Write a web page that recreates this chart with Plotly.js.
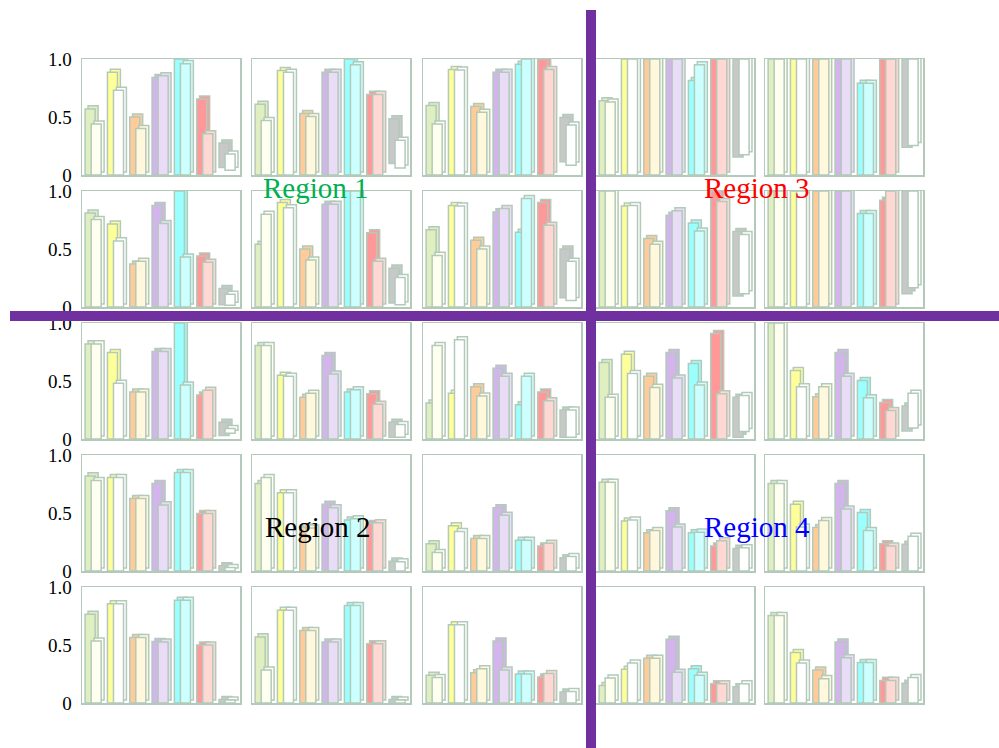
<!DOCTYPE html>
<html>
<head>
<meta charset="utf-8">
<script src="https://cdn.plot.ly/plotly-3.0.1.min.js"></script>
<style>html,body{margin:0;padding:0;background:#fff;}#chart{width:999px;height:748px;}</style>
</head>
<body>
<div id="chart"></div>
<script>
// ---------------- DATA ----------------
const categories = [0, 1, 2, 3, 4, 5, 6]; // green, yellow, orange, purple, cyan, red, gray
const tickValues = [0, 0.5, 1];
const tickLabels = ['0', '0.5', '1.0'];

// panels listed row by row (5 rows x 5 columns): top of the coloured (back) bar
const colorBars = [
  [0.57, 0.885, 0.50, 0.84, 1.0, 0.655, 0.275],
  [0.61, 0.90, 0.53, 0.885, 1.0, 0.695, 0.485],
  [0.60, 0.91, 0.59, 0.885, 0.955, 1.0, 0.495],
  [0.64, 1.0, 1.0, 1.0, 0.815, 1.0, 1.0],
  [1.0, 1.0, 1.0, 1.0, 0.79, 1.0, 1.0],
  [0.81, 0.715, 0.37, 0.875, 1.0, 0.44, 0.16],
  [0.54, 0.90, 0.50, 0.885, 1.0, 0.64, 0.335],
  [0.665, 0.875, 0.575, 0.82, 0.645, 0.90, 0.50],
  [1.0, 0.87, 0.59, 0.79, 0.725, 1.0, 0.65],
  [1.0, 1.0, 1.0, 1.0, 0.805, 0.92, 1.0],
  [0.82, 0.745, 0.405, 0.755, 1.0, 0.38, 0.145],
  [0.805, 0.55, 0.36, 0.72, 0.405, 0.39, 0.145],
  [0.31, 0.395, 0.45, 0.61, 0.295, 0.405, 0.25],
  [0.66, 0.73, 0.54, 0.745, 0.65, 0.91, 0.36],
  [1.0, 0.59, 0.365, 0.745, 0.505, 0.315, 0.285],
  [0.82, 0.805, 0.625, 0.755, 0.85, 0.495, 0.045],
  [0.755, 0.675, 0.38, 0.575, 0.44, 0.41, 0.085],
  [0.235, 0.39, 0.28, 0.545, 0.265, 0.215, 0.115],
  [0.765, 0.43, 0.33, 0.52, 0.33, 0.215, 0.195],
  [0.755, 0.575, 0.375, 0.755, 0.505, 0.235, 0.23],
  [0.765, 0.855, 0.565, 0.53, 0.885, 0.50, 0.03],
  [0.57, 0.80, 0.625, 0.525, 0.84, 0.51, 0.03],
  [0.24, 0.675, 0.26, 0.535, 0.25, 0.225, 0.095],
  [0.15, 0.29, 0.385, 0.55, 0.295, 0.165, 0.14],
  [0.755, 0.435, 0.285, 0.525, 0.35, 0.195, 0.17]
];

// top of the light (front) bar
const lightBars = [
  [0.44, 0.73, 0.40, 0.855, 0.96, 0.355, 0.18],
  [0.47, 0.885, 0.505, 0.885, 0.95, 0.695, 0.30],
  [0.44, 0.905, 0.54, 0.885, 1.0, 0.91, 0.43],
  [0.63, 1.0, 1.0, 1.0, 0.95, 1.0, 1.0],
  [1.0, 1.0, 1.0, 1.0, 0.79, 1.0, 1.0],
  [0.755, 0.57, 0.395, 0.72, 0.43, 0.385, 0.11],
  [0.80, 0.855, 0.405, 0.885, 1.0, 0.395, 0.255],
  [0.445, 0.87, 0.50, 0.85, 0.935, 0.705, 0.395],
  [1.0, 0.875, 0.54, 0.83, 0.655, 0.91, 0.625],
  [1.0, 1.0, 1.0, 1.0, 0.805, 1.0, 1.0],
  [0.82, 0.48, 0.405, 0.755, 0.465, 0.42, 0.09],
  [0.805, 0.54, 0.395, 0.56, 0.425, 0.30, 0.125],
  [0.805, 0.855, 0.37, 0.54, 0.54, 0.33, 0.25],
  [0.36, 0.565, 0.445, 0.525, 0.465, 0.39, 0.375],
  [1.0, 0.45, 0.45, 0.54, 0.355, 0.245, 0.395],
  [0.78, 0.805, 0.625, 0.57, 0.85, 0.495, 0.03],
  [0.805, 0.675, 0.37, 0.545, 0.45, 0.415, 0.08],
  [0.16, 0.34, 0.28, 0.48, 0.265, 0.24, 0.125],
  [0.765, 0.44, 0.35, 0.38, 0.335, 0.26, 0.20],
  [0.755, 0.38, 0.435, 0.535, 0.35, 0.215, 0.30],
  [0.535, 0.855, 0.565, 0.525, 0.885, 0.50, 0.025],
  [0.285, 0.80, 0.625, 0.525, 0.84, 0.51, 0.025],
  [0.22, 0.675, 0.295, 0.285, 0.25, 0.255, 0.10],
  [0.215, 0.345, 0.385, 0.265, 0.24, 0.165, 0.165],
  [0.755, 0.345, 0.21, 0.39, 0.35, 0.195, 0.22]
];

// the gray category floats: bottom of its bars per panel
const grayBaseColor = [0.065, 0.10, 0.115, 0.155, 0.24, 0.02, 0.035, 0.08, 0.095, 0.115,
  0.03, 0.015, 0.015, 0.015, 0.07, 0, 0, 0, 0, 0, 0, 0, 0, 0, 0];
const grayBaseLight = [0.04, 0.06, 0.085, 0.175, 0.255, 0.015, 0.02, 0.055, 0.115, 0.165,
  0.05, 0.015, 0.015, 0.065, 0.095, 0, 0, 0, 0, 0, 0, 0, 0, 0, 0];

const regionLabels = ['Region 1', 'Region 2', 'Region 3', 'Region 4'];

// ---------------- STYLE ----------------
const SERIF = "'Liberation Serif', 'Times New Roman', Times, serif";
const backColors = ['#e0efc0', '#ffff99', '#ffcc99', '#d4b4ec', '#99ffff', '#ff9999', '#c8c8c8'];
const frontColors = ['#fffff0', '#ffffff', '#fff8dc', '#e8dcf6', '#ccffff', '#ffd8d4', '#ffffff'];
const outline = '#b3c9ba';
const W = 999, H = 748;
const colLeft = [82, 252, 423, 596, 765], panelW = 158;
const rowTop = [59, 191, 323, 455, 587], panelH = 116;
const barW = 0.45, backOff = -0.36, frontOff = -0.09, dx = 0.13, dy = 0.026;

const traces = [];
const layout = {
  width: W, height: H,
  margin: {l: 0, r: 0, t: 0, b: 0},
  paper_bgcolor: '#ffffff', plot_bgcolor: '#ffffff',
  showlegend: false, barmode: 'overlay',
  font: {family: SERIF, color: '#000'},
  annotations: [], shapes: []
};

for (let r = 0; r < 5; r++) {
  for (let c = 0; c < 5; c++) {
    const k = r * 5 + c;
    const n = k + 1;
    const xa = n === 1 ? 'x' : 'x' + n;
    const ya = n === 1 ? 'y' : 'y' + n;
    const xk = n === 1 ? 'xaxis' : 'xaxis' + n;
    const yk = n === 1 ? 'yaxis' : 'yaxis' + n;
    layout[xk] = {
      domain: [colLeft[c] / W, (colLeft[c] + panelW) / W],
      range: [-0.5, 6.58], anchor: ya,
      showline: true, mirror: true, linecolor: outline, linewidth: 1.5,
      showgrid: false, zeroline: false, showticklabels: false, ticks: '', fixedrange: true
    };
    layout[yk] = {
      domain: [1 - (rowTop[r] + panelH) / H, 1 - rowTop[r] / H],
      range: [0, 1], anchor: xa,
      showline: true, mirror: true, linecolor: outline, linewidth: 1.5,
      showgrid: false, zeroline: false, fixedrange: true,
      showticklabels: c === 0, tickvals: tickValues, ticktext: tickLabels,
      ticks: c === 0 ? 'outside' : '', ticklen: 5, tickcolor: 'rgba(0,0,0,0)',
      tickfont: {family: SERIF, size: 19, color: '#000'}
    };
    const bBase = categories.map(i => i === 6 ? grayBaseColor[k] : 0);
    const fBase = categories.map(i => i === 6 ? grayBaseLight[k] : 0);
    const bLen = categories.map(i => colorBars[k][i] - bBase[i]);
    const fLen = categories.map(i => lightBars[k][i] - fBase[i]);
    const common = {type: 'bar', x: categories, xaxis: xa, yaxis: ya, width: barW,
      hoverinfo: 'skip'};
    traces.push(Object.assign({}, common, {
      y: bLen, base: bBase.map(v => v + dy), offset: backOff + dx,
      marker: {color: backColors, line: {color: outline, width: 1.5}}
    }));
    traces.push(Object.assign({}, common, {
      y: bLen, base: bBase, offset: backOff,
      marker: {color: backColors, line: {color: outline, width: 1.5}}
    }));
    traces.push(Object.assign({}, common, {
      y: fLen, base: fBase.map(v => v + dy), offset: frontOff + dx,
      marker: {color: frontColors, line: {color: outline, width: 1.5}}
    }));
    traces.push(Object.assign({}, common, {
      y: fLen, base: fBase, offset: frontOff,
      marker: {color: frontColors, line: {color: outline, width: 1.5}}
    }));
  }
}

// divider lines
layout.shapes.push({type: 'rect', xref: 'paper', yref: 'paper', layer: 'above',
  x0: 586 / W, x1: 596 / W, y0: 0, y1: 1 - 10 / H, fillcolor: '#7030a0', line: {width: 0}});
layout.shapes.push({type: 'rect', xref: 'paper', yref: 'paper', layer: 'above',
  x0: 10 / W, x1: 1, y0: 1 - 321 / H, y1: 1 - 311 / H, fillcolor: '#7030a0', line: {width: 0}});

// region labels
const regionPos = [[316, 188], [318, 527], [757, 188], [757, 527]];
const regionColors = ['#00b050', '#000000', '#ff0000', '#0000ff'];
regionLabels.forEach((t, i) => {
  layout.annotations.push({text: t, xref: 'paper', yref: 'paper',
    x: regionPos[i][0] / W, y: 1 - regionPos[i][1] / H, showarrow: false,
    xanchor: 'center', yanchor: 'middle',
    font: {family: SERIF, size: 29, color: regionColors[i]}});
});

Plotly.newPlot('chart', traces, layout, {staticPlot: true, displayModeBar: false});
</script>
</body>
</html>
